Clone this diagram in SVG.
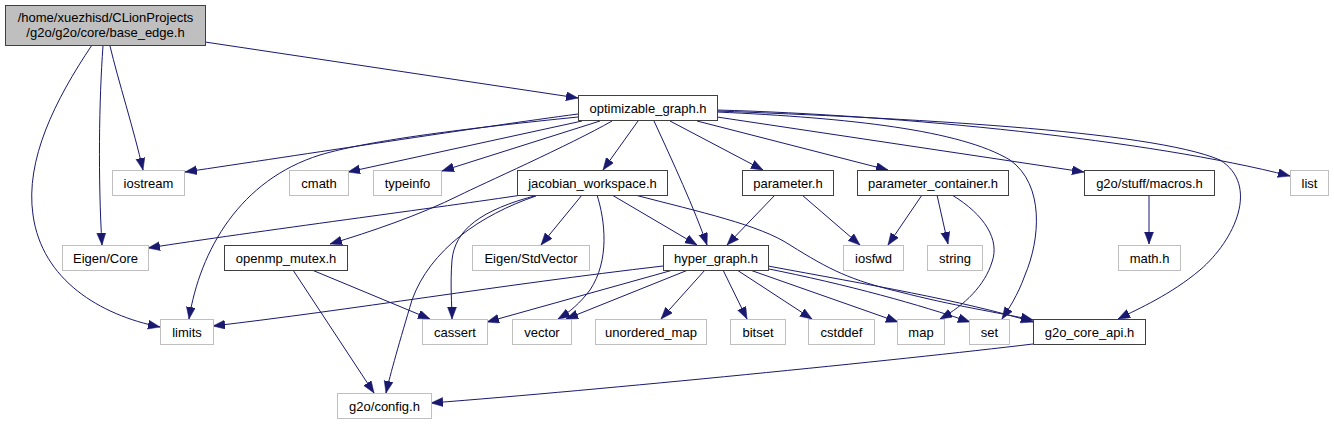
<svg xmlns="http://www.w3.org/2000/svg" width="1334" height="425" viewBox="0 0 1334 425">
<style>
text{font-family:"Liberation Sans",Arial,sans-serif;font-size:13px;fill:#000;text-anchor:middle}
.n rect{fill:#fff;stroke:#404040;stroke-width:1}
.g rect{fill:#fff;stroke:#bfbfbf;stroke-width:1}
.r rect{fill:#bfbfbf;stroke:#404040;stroke-width:1}
#edges path{fill:none;stroke:#191970;stroke-width:1;marker-end:url(#ah)}
</style>
<defs>
<marker id="ah" markerUnits="userSpaceOnUse" markerWidth="13" markerHeight="10" refX="12" refY="4.5" orient="auto">
<path d="M0,0 L12,4.5 L0,9 z" fill="#191970" stroke="#191970" stroke-width="0.5"/>
</marker>
</defs>
<rect width="1334" height="425" fill="#fff"/>
<g id="edges">
<path d="M205,42 L578,98"/>
<path d="M110,46 C118,80 134,130 143,170"/>
<path d="M103,46 C99,100 98,180 102,245"/>
<path d="M92,45 C55,100 25,160 33,215 C42,280 100,315 160,327"/>
<path d="M578,114 C480,127 300,155 185,172"/>
<path d="M578,117 C470,128 370,140 320,155 C240,180 200,250 189,319"/>
<path d="M582,121 L348,172"/>
<path d="M600,121 L442,171"/>
<path d="M612,121 C570,145 480,185 460,195 C420,215 370,232 330,244"/>
<path d="M638,121 L603,170"/>
<path d="M654,121 C672,160 695,210 707,245"/>
<path d="M670,121 L763,170"/>
<path d="M697,121 L888,170"/>
<path d="M717,117 L1084,172"/>
<path d="M717,110 C900,115 1150,140 1290,176"/>
<path d="M717,112 C850,118 960,130 1010,160 C1045,185 1040,240 1025,275 C1018,295 1008,310 1002,319"/>
<path d="M717,111 C900,118 1150,130 1220,160 C1260,185 1235,240 1200,270 C1170,295 1140,308 1118,319"/>
<path d="M522,195 C450,206 250,232 148,248"/>
<path d="M538,195 C480,210 455,230 452,260 C450,285 452,305 452,319"/>
<path d="M536,196 C480,215 430,250 412,300 C400,340 390,375 386,393"/>
<path d="M582,195 L541,245"/>
<path d="M597,195 C605,220 610,260 590,290 C580,303 570,312 558,319"/>
<path d="M612,195 L697,245"/>
<path d="M635,195 C700,212 760,225 790,245 C830,270 850,280 900,292 C950,305 1000,313 1033,320"/>
<path d="M775,195 L727,245"/>
<path d="M802,195 L860,245"/>
<path d="M922,195 L888,245"/>
<path d="M937,195 L948,244"/>
<path d="M952,195 C985,215 1000,240 992,262 C985,285 965,305 940,319"/>
<path d="M1149,195 L1149,244"/>
<path d="M312,270 L430,319"/>
<path d="M293,270 L374,393"/>
<path d="M663,266 C500,285 350,310 213,326"/>
<path d="M673,270 L487,322"/>
<path d="M688,270 L566,319"/>
<path d="M705,270 L661,319"/>
<path d="M723,270 L747,319"/>
<path d="M737,270 L812,319"/>
<path d="M750,270 L898,322"/>
<path d="M764,268 C850,285 920,305 970,322"/>
<path d="M768,266 C870,285 960,300 1033,322"/>
<path d="M1033,344 C900,360 600,390 431,403"/>
</g>
<g id="base_edge" class="r"><rect x="5.5" y="5.5" width="200" height="40"/><text x="105.5" y="22">/home/xuezhisd/CLionProjects</text><text x="105.5" y="37">/g2o/g2o/core/base_edge.h</text></g>
<g id="optimizable_graph" class="n"><rect x="578.5" y="95.5" width="139" height="25"/><text x="648" y="113">optimizable_graph.h</text></g>
<g id="iostream" class="g"><rect x="112.5" y="170.5" width="72" height="25"/><text x="148.5" y="188">iostream</text></g>
<g id="cmath" class="g"><rect x="289.5" y="170.5" width="59" height="25"/><text x="319" y="188">cmath</text></g>
<g id="typeinfo" class="g"><rect x="373.5" y="170.5" width="68" height="25"/><text x="407.5" y="188">typeinfo</text></g>
<g id="jacobian_workspace" class="n"><rect x="517.5" y="170.5" width="150" height="25"/><text x="592.5" y="188">jacobian_workspace.h</text></g>
<g id="parameter" class="n"><rect x="742.5" y="170.5" width="91" height="25"/><text x="788" y="188">parameter.h</text></g>
<g id="parameter_container" class="n"><rect x="857.5" y="170.5" width="151" height="25"/><text x="933" y="188">parameter_container.h</text></g>
<g id="macros" class="n"><rect x="1084.5" y="170.5" width="130" height="25"/><text x="1149.5" y="188">g2o/stuff/macros.h</text></g>
<g id="list" class="g"><rect x="1290.5" y="170.5" width="38" height="25"/><text x="1309.5" y="188">list</text></g>
<g id="eigen_core" class="g"><rect x="62.5" y="245.5" width="86" height="25"/><text x="105.5" y="263">Eigen/Core</text></g>
<g id="openmp_mutex" class="n"><rect x="224.5" y="245.5" width="123" height="25"/><text x="286" y="263">openmp_mutex.h</text></g>
<g id="eigen_stdvector" class="g"><rect x="472.5" y="245.5" width="117" height="25"/><text x="531" y="263">Eigen/StdVector</text></g>
<g id="hyper_graph" class="n"><rect x="663.5" y="245.5" width="105" height="25"/><text x="716" y="263">hyper_graph.h</text></g>
<g id="iosfwd" class="g"><rect x="843.5" y="245.5" width="60" height="25"/><text x="873.5" y="263">iosfwd</text></g>
<g id="string" class="g"><rect x="927.5" y="245.5" width="55" height="25"/><text x="955" y="263">string</text></g>
<g id="math" class="g"><rect x="1118.5" y="245.5" width="62" height="25"/><text x="1149.5" y="263">math.h</text></g>
<g id="limits" class="g"><rect x="160.5" y="319.5" width="53" height="25"/><text x="187" y="337">limits</text></g>
<g id="cassert" class="g"><rect x="422.5" y="319.5" width="65" height="25"/><text x="455" y="337">cassert</text></g>
<g id="vector" class="g"><rect x="512.5" y="319.5" width="59" height="25"/><text x="542" y="337">vector</text></g>
<g id="unordered_map" class="g"><rect x="595.5" y="319.5" width="111" height="25"/><text x="651" y="337">unordered_map</text></g>
<g id="bitset" class="g"><rect x="730.5" y="319.5" width="55" height="25"/><text x="758" y="337">bitset</text></g>
<g id="cstddef" class="g"><rect x="808.5" y="319.5" width="66" height="25"/><text x="841.5" y="337">cstddef</text></g>
<g id="map" class="g"><rect x="897.5" y="319.5" width="47" height="25"/><text x="921" y="337">map</text></g>
<g id="set" class="g"><rect x="969.5" y="319.5" width="40" height="25"/><text x="989.5" y="337">set</text></g>
<g id="g2o_core_api" class="n"><rect x="1033.5" y="319.5" width="112" height="25"/><text x="1089.5" y="337">g2o_core_api.h</text></g>
<g id="config" class="g"><rect x="337.5" y="393.5" width="94" height="25"/><text x="384.5" y="411">g2o/config.h</text></g>
</svg>
